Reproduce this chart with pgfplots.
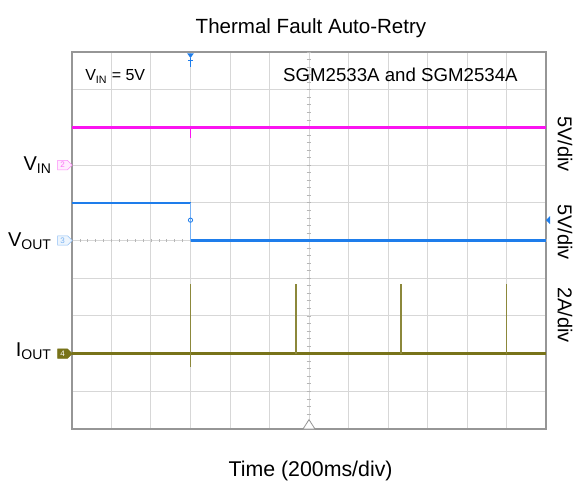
\documentclass[border=0pt]{standalone}
\usepackage{pgfplots}
\pgfplotsset{compat=1.18}
\usepackage{fontspec}
\setmainfont{Liberation Sans}
\usetikzlibrary{shapes.symbols}
\definecolor{vin}{RGB}{250,20,240}
\definecolor{vout}{RGB}{30,125,235}
\definecolor{iout}{RGB}{120,115,25}
\definecolor{gridc}{RGB}{215,215,215}
\definecolor{framec}{RGB}{150,150,150}
\begin{document}
\begin{tikzpicture}
\useasboundingbox (-54pt,-38.25pt) rectangle (376.5pt,321.75pt);
\begin{axis}[at={(0,0)},anchor=south west,scale only axis,
  width=355.5pt,height=282.75pt,
  xmin=0,xmax=12,ymin=0,ymax=10,
  xtick={0,...,12},ytick={0,...,10},xticklabels={},yticklabels={},
  major tick length=0pt, grid=major,
  major grid style={gridc,line width=0.75pt},
  axis line style={framec,line width=0.9pt},
  clip=false, unbounded coords=jump]
% graticule minor ticks on centre lines
\pgfplotsinvokeforeach{0.2,0.4,...,11.9}{\draw[framec!70,line width=0.5pt] (axis cs:#1,4.955) -- (axis cs:#1,5.045);}
\pgfplotsinvokeforeach{0.2,0.4,...,9.9}{\draw[framec!70,line width=0.5pt] (axis cs:5.94,#1) -- (axis cs:6.06,#1);}
% VIN
\addplot[vin,line width=1.8pt] coordinates {(0,8) (12,8)};
\addplot[vin,line width=0.6pt] coordinates {(3,8) (3,7.72)};
% VOUT
\addplot[vout,line width=1.8pt] coordinates {(0,6) (3,6)};
\addplot[vout!60,line width=0.6pt] coordinates {(3,6) (3,5)};
\addplot[vout,line width=1.8pt] coordinates {(3,5) (12,5)};
\addplot[vout,only marks,mark=o,mark size=1.6pt,mark options={line width=0.6pt}] coordinates {(3,5.54)};
% IOUT
\addplot[iout,line width=2pt] coordinates {(0,2) (12,2)};
\addplot[iout!85,line width=0.9pt] coordinates {(3,1.65) (3,3.85) (4,nan) (5.67,2) (5.67,3.85) (7,nan) (8.33,2) (8.33,3.85) (9,nan) (11.0,2) (11.0,3.85)};
% markers
\draw[framec,line width=0.6pt,fill=white] (axis cs:6,0) ++(-4.5pt,0) -- ++(4.5pt,7pt) -- ++(4.5pt,-7pt) -- cycle;
\fill[vout] (axis cs:3,10) ++(-2.5pt,-1pt) -- ++(5pt,0) -- ++(-2.5pt,-3.5pt) -- cycle;
\draw[vout,line width=0.6pt] (axis cs:3,10) ++(0,-4.5pt) -- ++(0,-7pt);
\draw[vout,line width=0.6pt] (axis cs:3,10) ++(-2pt,-6.5pt) -- ++(4pt,0);
\fill[vout] (axis cs:12,5.54) -- ++(3pt,3pt) -- ++(0,-6pt) -- cycle;
% channel boxes
\node[signal,signal to=east,draw=vin!50,fill=vin!8,text=vin!60,font=\fontsize{6}{6}\selectfont,inner sep=0.6pt,minimum height=7pt,minimum width=11pt] at (axis cs:-0.24,7) {2};
\node[signal,signal to=east,draw=vout!50,fill=vout!8,text=vout!60,font=\fontsize{6}{6}\selectfont,inner sep=0.6pt,minimum height=7pt,minimum width=11pt] at (axis cs:-0.24,5) {3};
\node[signal,signal to=east,draw=iout,fill=iout,text=white,font=\fontsize{6}{6}\selectfont,inner sep=0.6pt,minimum height=7pt,minimum width=11pt] at (axis cs:-0.24,2) {4};
% left labels
\node[anchor=base east,inner sep=0,font=\fontsize{15}{15}\selectfont] at (axis cs:-0.51,6.85) {V\textsubscript{IN}};
\node[anchor=base east,inner sep=0,font=\fontsize{15}{15}\selectfont] at (axis cs:-0.51,4.84) {V\textsubscript{OUT}};
\node[anchor=base east,inner sep=0,font=\fontsize{15}{15}\selectfont] at (axis cs:-0.51,1.92) {I\textsubscript{OUT}};
% right labels
\node[rotate=-90,inner sep=0,font=\fontsize{15}{15}\selectfont] at (axis cs:12.48,7.56) {5V/div};
\node[rotate=-90,inner sep=0,font=\fontsize{15}{15}\selectfont] at (axis cs:12.48,5.23) {5V/div};
\node[rotate=-90,inner sep=0,font=\fontsize{15}{15}\selectfont] at (axis cs:12.48,3.02) {2A/div};
% inside texts
\node[anchor=base west,inner sep=0,font=\fontsize{12}{12}\selectfont] at (axis cs:0.33,9.24) {V\textsubscript{IN} = 5V};
\node[anchor=base east,inner sep=0,font=\fontsize{14}{14}\selectfont] at (axis cs:11.29,9.21) {SGM2533A and SGM2534A};
% title and x label
\node[anchor=base,inner sep=0,font=\fontsize{15.4}{15.4}\selectfont] at (axis cs:6.05,10.49) {Thermal Fault Auto-Retry};
\node[anchor=base,inner sep=0,font=\fontsize{16}{16}\selectfont] at (axis cs:6.04,-1.265) {Time (200ms/div)};
\end{axis}
\end{tikzpicture}
\end{document}
